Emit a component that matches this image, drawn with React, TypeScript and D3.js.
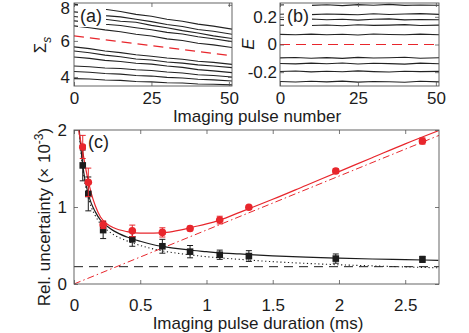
import { useEffect, useRef } from "react";
import * as d3 from "d3";

const RED = "#e8262c";
const INK = "#1c1c1c";
const FONT = "'Liberation Sans', Arial, sans-serif";

// (a) Sigma_s traces, read every 5 pulses
const pulseNo = [0, 5, 10, 15, 20, 25, 30, 35, 40, 45, 51];
const sigmaTraces = [
  [8.04, 7.91, 7.75, 7.63, 7.47, 7.37, 7.2, 7.09, 6.93, 6.82, 6.65],
  [7.61, 7.53, 7.4, 7.33, 7.2, 7.07, 6.91, 6.8, 6.63, 6.53, 6.37],
  [7.35, 7.26, 7.2, 7.09, 7.03, 6.86, 6.73, 6.57, 6.44, 6.28, 6.13],
  [7.11, 7.03, 6.92, 6.85, 6.73, 6.62, 6.47, 6.38, 6.23, 6.12, 5.96],
  [6.83, 6.73, 6.61, 6.51, 6.37, 6.27, 6.11, 6.02, 5.87, 5.78, 5.63],
  [5.67, 5.57, 5.44, 5.35, 5.23, 5.15, 5.05, 4.98, 4.87, 4.81, 4.7],
  [5.44, 5.34, 5.21, 5.12, 5.0, 4.94, 4.83, 4.77, 4.67, 4.61, 4.52],
  [5.11, 5.03, 4.92, 4.86, 4.76, 4.71, 4.61, 4.53, 4.41, 4.34, 4.24],
  [4.61, 4.57, 4.5, 4.47, 4.4, 4.36, 4.28, 4.22, 4.12, 4.08, 4.0],
  [4.3, 4.26, 4.19, 4.16, 4.08, 4.05, 3.98, 3.94, 3.87, 3.84, 3.78],
  [3.91, 3.89, 3.83, 3.81, 3.75, 3.73, 3.68, 3.67, 3.61, 3.6, 3.56],
];
const meanX = [0, 51];
const sigmaMean = [6.28, 5.18];

// (b) E traces
const eTraces = [
  [0.285, 0.289, 0.283, 0.287, 0.281, 0.288, 0.284, 0.29, 0.283, 0.286, 0.284],
  [0.219, 0.222, 0.216, 0.221, 0.218, 0.215, 0.222, 0.217, 0.22, 0.223, 0.218],
  [0.181, 0.178, 0.184, 0.179, 0.183, 0.176, 0.182, 0.185, 0.178, 0.181, 0.179],
  [0.139, 0.142, 0.137, 0.141, 0.136, 0.143, 0.138, 0.14, 0.144, 0.137, 0.14],
  [0.073, 0.07, 0.075, 0.071, 0.074, 0.069, 0.076, 0.072, 0.07, 0.075, 0.071],
  [-0.097, -0.094, -0.099, -0.095, -0.1, -0.093, -0.098, -0.096, -0.092, -0.099, -0.096],
  [-0.137, -0.14, -0.135, -0.139, -0.134, -0.141, -0.136, -0.138, -0.142, -0.135, -0.139],
  [-0.195, -0.192, -0.198, -0.193, -0.197, -0.191, -0.196, -0.199, -0.193, -0.196, -0.194],
  [-0.268, -0.271, -0.266, -0.27, -0.265, -0.272, -0.267, -0.269, -0.273, -0.266, -0.27],
];
const eMean = [0, 0];

// (c) relative uncertainty vs pulse duration
const durations = [0.066, 0.108, 0.22, 0.44, 0.667, 0.876, 1.1, 1.32, 1.976, 2.63];
const relRed = [1.78, 1.32, 0.77, 0.69, 0.67, 0.72, 0.83, 0.996, 1.468, 1.857];
const errRed = [0.15, 0.185, 0.05, 0.075, 0.06, 0.03, 0.05, 0.02, 0.03, 0.04];
const relBlack = [1.54, 1.17, 0.7, 0.58, 0.49, 0.42, 0.38, 0.363, 0.33, 0.32];
const errBlack = [0.2, 0.22, 0.11, 0.09, 0.09, 0.08, 0.06, 0.07, 0.06, 0.04];

const fitT = [0.03, 0.04, 0.05, 0.066, 0.08, 0.1, 0.13, 0.16, 0.2, 0.25, 0.3, 0.4, 0.5, 0.6, 0.7, 0.8, 0.9, 1.0, 1.1, 1.25, 1.5, 1.75, 2.0, 2.25, 2.5, 2.75];
const fitRed = [2.05, 1.95, 1.86, 1.72, 1.58, 1.4, 1.18, 1.02, 0.87, 0.78, 0.73, 0.68, 0.66, 0.66, 0.67, 0.7, 0.74, 0.78, 0.83, 0.93, 1.1, 1.28, 1.46, 1.64, 1.82, 1.99];
const fitBlack = [2.35, 2.0, 1.8, 1.55, 1.38, 1.22, 1.05, 0.94, 0.83, 0.75, 0.69, 0.61, 0.555, 0.51, 0.48, 0.455, 0.435, 0.42, 0.405, 0.39, 0.365, 0.348, 0.335, 0.325, 0.316, 0.308];
const fitShot = [2.3, 1.95, 1.75, 1.5, 1.33, 1.17, 1.0, 0.89, 0.78, 0.7, 0.64, 0.56, 0.5, 0.455, 0.42, 0.395, 0.373, 0.355, 0.34, 0.32, 0.29, 0.268, 0.25, 0.236, 0.222, 0.21];
const floorX = [0, 2.755];
const floorY = [0.225, 0.225];
const lossX = [0, 2.755];
const lossY = [0, 1.93];

const fmt = (d) => (d === 0 ? "0" : String(d).replace("−", "-"));

export default function App() {
  const ref = useRef(null);

  useEffect(() => {
    const svg = d3.select(ref.current);
    svg.selectAll("*").remove();
    svg.style("font-family", FONT);

    const clipped = (id, x, y) => {
      const [x0, x1] = x.range();
      const [y1, y0] = y.range();
      svg.append("clipPath").attr("id", id).append("rect")
        .attr("x", x0).attr("y", y0).attr("width", x1 - x0).attr("height", y1 - y0);
      return svg.append("g").attr("clip-path", `url(#${id})`);
    };

    const frame = (x, y, xt, yt, padX, padY) => {
      const [x0, x1] = x.range();
      const [y1, y0] = y.range();
      const g = svg.append("g");
      const axes = [
        g.append("g").attr("transform", `translate(0,${y1})`)
          .call(d3.axisBottom(x).tickValues(xt).tickSize(-4).tickPadding(padX).tickFormat(fmt)),
        g.append("g").attr("transform", `translate(0,${y0})`)
          .call(d3.axisTop(x).tickValues(xt).tickSize(-4).tickFormat(() => "")),
        g.append("g").attr("transform", `translate(${x0},0)`)
          .call(d3.axisLeft(y).tickValues(yt).tickSize(-4).tickPadding(padY).tickFormat(fmt)),
        g.append("g").attr("transform", `translate(${x1},0)`)
          .call(d3.axisRight(y).tickValues(yt).tickSize(-4).tickFormat(() => "")),
      ];
      axes.forEach((a) => {
        a.select(".domain").remove();
        a.selectAll(".tick line").attr("stroke", "#555").attr("stroke-width", 0.8);
        a.selectAll(".tick text").attr("fill", INK).style("font-size", "17px").style("font-family", FONT);
      });
      g.append("rect").attr("x", x0).attr("y", y0).attr("width", x1 - x0).attr("height", y1 - y0)
        .attr("fill", "none").attr("stroke", "#555").attr("stroke-width", 0.9);
      return axes;
    };

    const tag = (label, bx, by, bw, bh, tx, ty) => {
      svg.append("rect").attr("x", bx).attr("y", by).attr("width", bw).attr("height", bh).attr("fill", "#fff");
      svg.append("text").attr("x", tx).attr("y", ty).attr("fill", INK).style("font-size", "18px").text(label);
    };

    // ---------- (a)
    const xa = d3.scaleLinear().domain([0, 51]).range([74, 232]);
    const ya = d3.scaleLinear().domain([3.5, 8.1]).range([86, 3]);
    const pa = clipped("clipA", xa, ya);
    const lineA = d3.line().x((d, i) => xa(pulseNo[i])).y((d) => ya(d));
    sigmaTraces.forEach((tr) => {
      pa.append("path").attr("d", lineA(tr)).attr("fill", "none").attr("stroke", "#222").attr("stroke-width", 1.1);
    });
    pa.append("path")
      .attr("d", d3.line().x((d, i) => xa(meanX[i])).y((d) => ya(d))(sigmaMean))
      .attr("fill", "none").attr("stroke", RED).attr("stroke-width", 1.2).attr("stroke-dasharray", "10,6");
    tag("(a)", 78, 4, 28, 23, 80, 22);
    const axA = frame(xa, ya, [0, 25, 50], [4, 6, 8], 6, 4);
    // top label sits a little lower, as in the figure
    axA[2].selectAll(".tick text").filter((d) => d === 8).attr("dy", "0.52em");

    // ---------- (b)
    const xb = d3.scaleLinear().domain([0, 51]).range([280, 439]);
    const yb = d3.scaleLinear().domain([-0.3, 0.3]).range([86, 3]);
    const pb = clipped("clipB", xb, yb);
    const lineB = d3.line().x((d, i) => xb(pulseNo[i])).y((d) => yb(d));
    eTraces.forEach((tr) => {
      pb.append("path").attr("d", lineB(tr)).attr("fill", "none").attr("stroke", "#222").attr("stroke-width", 1.1);
    });
    pb.append("path")
      .attr("d", d3.line().x((d, i) => xb(meanX[i])).y((d) => yb(d))(eMean))
      .attr("fill", "none").attr("stroke", RED).attr("stroke-width", 1.2).attr("stroke-dasharray", "10,6");
    tag("(b)", 284, 4, 28, 23, 287, 22);
    frame(xb, yb, [0, 25, 50], [-0.2, 0, 0.2], 6, 3);

    // titles for top row
    svg.append("text").attr("x", 257).attr("y", 122).attr("text-anchor", "middle")
      .attr("fill", INK).style("font-size", "17px").text("Imaging pulse number");
    const sig = svg.append("text").attr("transform", "translate(46,45) rotate(-90)")
      .attr("text-anchor", "middle").attr("fill", INK).style("font-size", "17px");
    sig.append("tspan").text("Σ");
    sig.append("tspan").attr("dy", 5).style("font-size", "12px").style("font-style", "italic").text("s");
    svg.append("text").attr("transform", "translate(254,44) rotate(-90)")
      .attr("text-anchor", "middle").attr("fill", INK).style("font-size", "17px").style("font-style", "italic").text("E");

    // ---------- (c)
    const xc = d3.scaleLinear().domain([0, 2.755]).range([74, 439]);
    const yc = d3.scaleLinear().domain([0, 2]).range([284, 130]);
    const pc = clipped("clipC", xc, yc);

    const straight = (xs) => d3.line().x((d, i) => xc(xs[i])).y((d) => yc(d));
    const smooth = d3.line().curve(d3.curveMonotoneX).x((d, i) => xc(fitT[i])).y((d) => yc(d));

    pc.append("path").attr("d", straight(floorX)(floorY)).attr("fill", "none")
      .attr("stroke", INK).attr("stroke-width", 1).attr("stroke-dasharray", "9,6");
    pc.append("path").attr("d", straight(lossX)(lossY)).attr("fill", "none")
      .attr("stroke", RED).attr("stroke-width", 1).attr("stroke-dasharray", "7,3,1.5,3");
    pc.append("path").attr("d", smooth(fitShot)).attr("fill", "none")
      .attr("stroke", INK).attr("stroke-width", 1.1).attr("stroke-dasharray", "1.2,2.6");
    pc.append("path").attr("d", smooth(fitBlack)).attr("fill", "none")
      .attr("stroke", INK).attr("stroke-width", 1.2);
    pc.append("path").attr("d", smooth(fitRed)).attr("fill", "none")
      .attr("stroke", RED).attr("stroke-width", 1.2);

    const errBars = (vals, errs, color) => {
      const g = pc.append("g").attr("stroke", color).attr("stroke-width", 1);
      durations.forEach((t, i) => {
        const cx = xc(t);
        const lo = yc(vals[i] - errs[i]);
        const hi = yc(vals[i] + errs[i]);
        g.append("line").attr("x1", cx).attr("x2", cx).attr("y1", lo).attr("y2", hi);
        g.append("line").attr("x1", cx - 3).attr("x2", cx + 3).attr("y1", lo).attr("y2", lo);
        g.append("line").attr("x1", cx - 3).attr("x2", cx + 3).attr("y1", hi).attr("y2", hi);
      });
    };

    errBars(relBlack, errBlack, INK);
    pc.append("g").selectAll("rect").data(relBlack).join("rect")
      .attr("x", (d, i) => xc(durations[i]) - 3.3).attr("y", (d) => yc(d) - 3.3)
      .attr("width", 6.6).attr("height", 6.6).attr("fill", INK);

    errBars(relRed, errRed, RED);
    pc.append("g").selectAll("circle").data(relRed).join("circle")
      .attr("cx", (d, i) => xc(durations[i])).attr("cy", (d) => yc(d))
      .attr("r", 3.8).attr("fill", RED);

    tag("(c)", 86, 133, 24, 17, 88, 148);
    frame(xc, yc, [0, 0.5, 1, 1.5, 2, 2.5], [0, 1, 2], 15, 7);

    svg.append("text").attr("x", 258).attr("y", 329).attr("text-anchor", "middle")
      .attr("fill", INK).style("font-size", "17px").text("Imaging pulse duration (ms)");
    const yl = svg.append("text").attr("transform", "translate(50,217) rotate(-90)")
      .attr("text-anchor", "middle").attr("fill", INK).style("font-size", "17px");
    yl.append("tspan").text("Rel. uncertainty (× 10");
    yl.append("tspan").attr("dy", -7).style("font-size", "12px").text("-3");
    yl.append("tspan").attr("dy", 7).text(")");
  }, []);

  return (
    <svg
      ref={ref}
      width={469}
      height={333}
      style={{ position: "absolute", left: 0, top: 0, background: "#fff" }}
    ></svg>
  );
}
